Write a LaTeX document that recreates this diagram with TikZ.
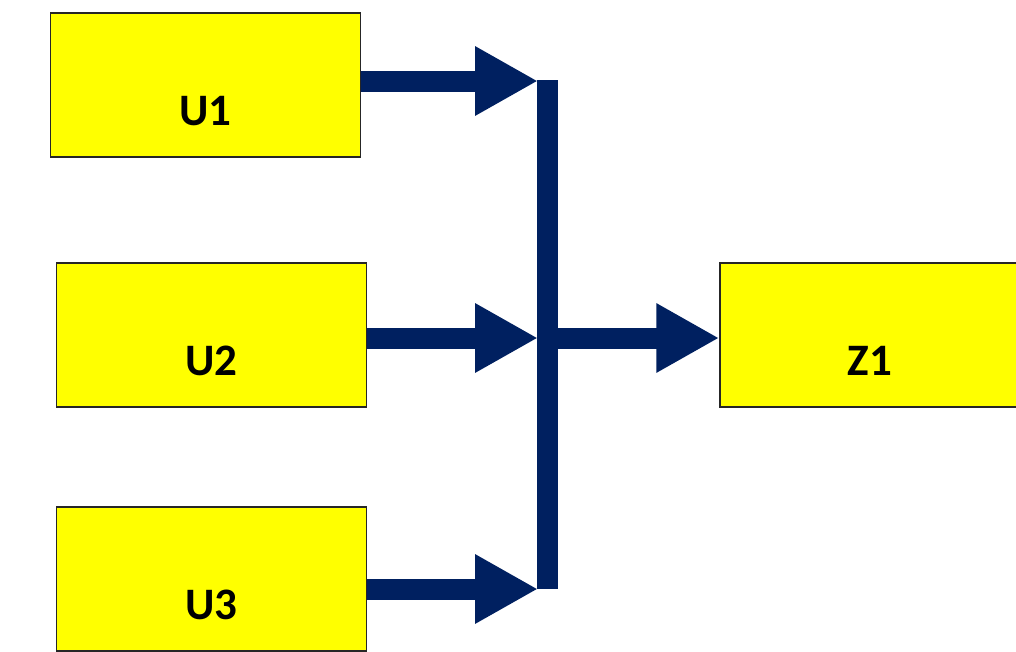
\documentclass[tikz,border=0pt]{standalone}
\usepackage{fontspec}
\setmainfont{Carlito}
\usetikzlibrary{arrows.meta,positioning}

\definecolor{boxyellow}{HTML}{FFFF00}
\definecolor{busblue}{HTML}{002060}

\tikzset{
  block/.style={draw=black!85, line width=1.5pt, fill=boxyellow,
                minimum width=310pt, minimum height=144pt, inner sep=0pt},
  blocklabel/.style={font=\fontsize{45}{50}\selectfont\bfseries, yshift=-26pt},
  flow/.style={draw, color=busblue, line width=21pt,
               -{Triangle[length=63pt,width=65pt]}},
  bus/.style={draw, color=busblue, line width=21pt, line cap=butt}
}

\begin{document}
\begin{tikzpicture}[x=1pt,y=1pt,node distance=250pt,on grid]
  \useasboundingbox (0,0) rectangle (1016,-651);
  \clip (0,0) rectangle (1016,-651);

  \node[block, label={[blocklabel]center:U2}] (U2) at (211.5,-335) {};
  \node[block, label={[blocklabel]center:U1}] (U1) [above=of U2, xshift=-6pt] {};
  \node[block, label={[blocklabel]center:U3}] (U3) [below=244pt of U2] {};
  \node[block, minimum width=300pt, label={[blocklabel]center:Z1}] (Z1) [right=658.5pt of U2] {};

  % joints on the collecting bar
  \coordinate (j1) at (538,-81);
  \coordinate (j2) at (538,-338);
  \coordinate (j3) at (538,-589);
  \coordinate (bartop) at (547.5,-80);
  \coordinate (barbot) at (547.5,-589);

  \path[bus] (bartop) -- (barbot);
  \path[every edge/.style={flow}]
    (U1.east |- j1) edge (j1)
    (U2.east |- j2) edge (j2)
    (U3.east |- j3) edge (j3)
    (j2) edge (Z1.west |- j2);
\end{tikzpicture}
\end{document}
